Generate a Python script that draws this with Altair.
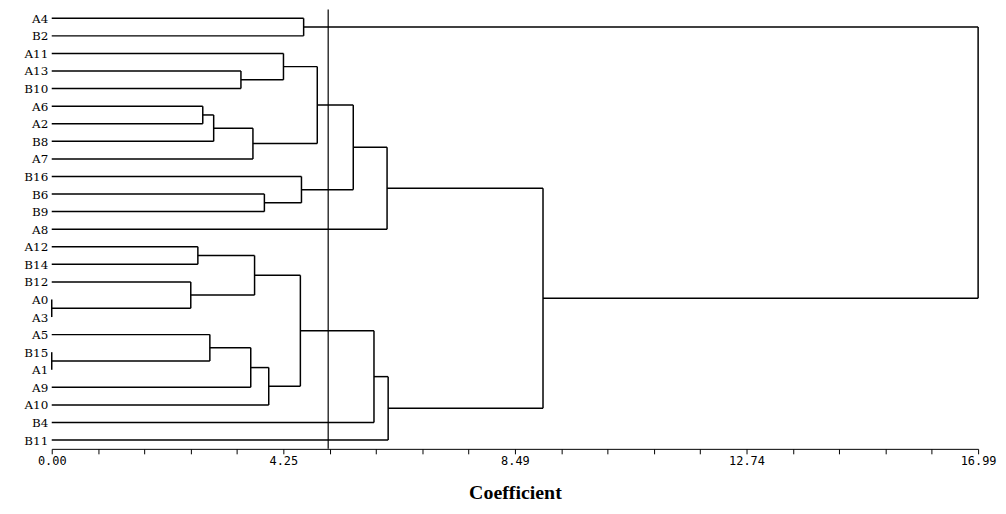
import altair as alt
import pandas as pd

# leaves from top to bottom
leaves = ["A4", "B2", "A11", "A13", "B10", "A6", "A2", "B8", "A7", "B16", "B6", "B9", "A8",
          "A12", "B14", "B12", "A0", "A3", "A5", "B15", "A1", "A9", "A10", "B4", "B11"]

# merges: (left child, right child, coefficient, new name)
merges = [
    ("A4", "B2", 4.62, "n1"),
    ("A13", "B10", 3.47, "n2"),
    ("A11", "n2", 4.25, "n3"),
    ("A6", "A2", 2.77, "n4"),
    ("n4", "B8", 2.97, "n5"),
    ("n5", "A7", 3.69, "n6"),
    ("n3", "n6", 4.87, "n7"),
    ("B6", "B9", 3.90, "n8"),
    ("B16", "n8", 4.58, "n9"),
    ("n7", "n9", 5.53, "n10"),
    ("n10", "A8", 6.15, "n11"),
    ("A12", "B14", 2.68, "n12"),
    ("A0", "A3", 0.0, "n13"),
    ("B12", "n13", 2.55, "n14"),
    ("n12", "n14", 3.72, "n15"),
    ("B15", "A1", 0.0, "n16"),
    ("A5", "n16", 2.90, "n17"),
    ("n17", "A9", 3.65, "n18"),
    ("n18", "A10", 3.98, "n19"),
    ("n15", "n19", 4.56, "n20"),
    ("n20", "B4", 5.91, "n21"),
    ("n21", "B11", 6.17, "n22"),
    ("n11", "n22", 9.01, "n23"),
    ("n1", "n23", 16.99, "root"),
]

cutoff = 5.07
tick_values = [i * 16.99 / 20 for i in range(21)]
major_labels = {0: "0.00", 5: "4.25", 10: "8.49", 15: "12.74", 20: "16.99"}

pos = {name: (0.0, i) for i, name in enumerate(leaves)}
segs = []
for a, b, h, n in merges:
    xa, ya = pos[a]
    xb, yb = pos[b]
    segs.append({"x": xa, "x2": h, "y": ya, "y2": ya})
    segs.append({"x": xb, "x2": h, "y": yb, "y2": yb})
    segs.append({"x": h, "x2": h, "y": ya, "y2": yb})
    pos[n] = (h, (ya + yb) / 2)
df = pd.DataFrame(segs)

label_expr = "[" + ",".join(f"'{l}'" for l in leaves) + "][datum.value]"
tick_expr = ("{" + ",".join(f"'{tick_values[k]:.6f}':'{v}'" for k, v in major_labels.items())
             + "}[format(datum.value, '.6f')] || ''")

xs = alt.X("x:Q", scale=alt.Scale(domain=[0, 16.99], nice=False, zero=False),
           axis=alt.Axis(values=tick_values, labelExpr=tick_expr, title="Coefficient",
                         titleFont="Liberation Serif", titleFontSize=20, titleFontWeight="bold",
                         titleColor="black", titlePadding=16, labelFont="DejaVu Sans Mono",
                         labelFontSize=12, labelColor="black", grid=False, tickColor="black",
                         domainColor="black", tickSize=5, labelFlush=False))
ys = alt.Y("y:Q", scale=alt.Scale(domain=[-0.5, 24.5], reverse=True, nice=False, zero=False),
           axis=alt.Axis(values=list(range(len(leaves))), labelExpr=label_expr, title=None,
                         domain=False, ticks=False, grid=False, labelFont="DejaVu Serif",
                         labelFontSize=12, labelColor="black", labelPadding=4))

tree = alt.Chart(df).mark_rule(color="black", strokeWidth=1.5).encode(
    x=xs, x2="x2:Q", y=ys, y2="y2:Q")

cut = alt.Chart(pd.DataFrame({"x": [cutoff]})).mark_rule(color="black", strokeWidth=1.2).encode(
    x="x:Q")

chart = (tree + cut).properties(
    width=932, height=442, autosize="none",
    padding={"left": 44, "top": 0, "right": 20, "bottom": 60}
).configure_view(stroke=None)

chart.save("out.html", embed_options={"renderer": "svg", "actions": False})
